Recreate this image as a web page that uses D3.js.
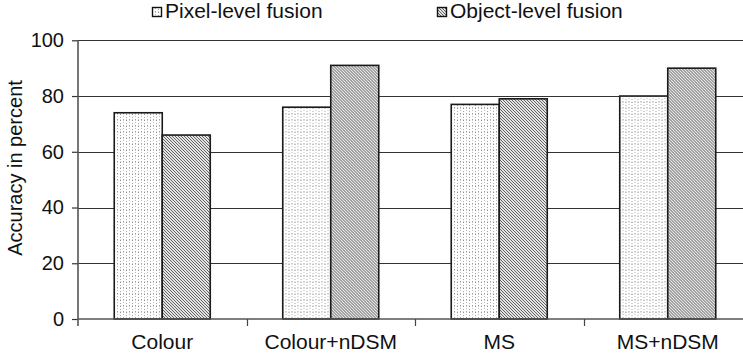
<!DOCTYPE html>
<html>
<head>
<meta charset="utf-8">
<script src="https://cdn.jsdelivr.net/npm/d3@7"></script>
<style>
  html, body { margin: 0; padding: 0; background: #fff; }
  svg { display: block; font-family: "Liberation Sans", Arial, Helvetica, sans-serif; }
</style>
</head>
<body>
<svg id="chart" width="743" height="357"></svg>
<script>
// Classification accuracy for each input data combination
const categories = ["Colour", "Colour+nDSM", "MS", "MS+nDSM"];
const seriesNames = ["Pixel-level fusion", "Object-level fusion"];
const pixelLevel = [74, 76, 77, 80];
const objectLevel = [66, 91, 79, 90];
const yTicks = [0, 20, 40, 60, 80, 100];

const svg = d3.select("#chart");
const W = 743;
const x0 = 78, bandStep = 168.5;
const yTop = 40.3, yBottom = 319;
const textColor = "#111";

// fill patterns
const defs = svg.append("defs");
const dots = defs.append("pattern")
  .attr("id", "dots").attr("patternUnits", "userSpaceOnUse")
  .attr("width", 6).attr("height", 6);
dots.append("rect").attr("width", 6).attr("height", 6).attr("fill", "#ffffff");
[[0, 0, "#8c8c8c"], [3, 2, "#bdbdbd"], [0, 3, "#a8a8a8"], [3, 5, "#9e9e9e"], [0, 5, "#d0d0d0"], [3, 0, "#c8c8c8"]]
  .forEach(([px, py, c]) => dots.append("rect").attr("x", px).attr("y", py)
    .attr("width", 1).attr("height", 1).attr("fill", c));

const hatch = defs.append("pattern")
  .attr("id", "hatch").attr("patternUnits", "userSpaceOnUse")
  .attr("width", 3).attr("height", 3);
hatch.append("rect").attr("width", 3).attr("height", 3).attr("fill", "#e4e4e4");
hatch.append("path").attr("d", "M-1,-1 L4,4 M-1,2 L1,4 M2,-1 L4,1")
  .attr("stroke", "#555").attr("stroke-width", 0.9);

const fills = ["url(#dots)", "url(#hatch)"];

const y = d3.scaleLinear().domain([0, 100]).range([yBottom, yTop]);
const x = d3.scaleBand().domain(categories).range([x0, x0 + categories.length * bandStep]);
const xs = d3.scaleBand().domain(seriesNames).range([0, x.bandwidth()]).paddingOuter(0.755);

// horizontal gridlines
svg.append("g").selectAll("line").data(yTicks.filter(d => d > 0)).join("line")
  .attr("x1", x0).attr("x2", W)
  .attr("y1", d => Math.round(y(d)) + 0.5).attr("y2", d => Math.round(y(d)) + 0.5)
  .attr("stroke", "#333").attr("stroke-width", 1.2);

// bars
const rows = categories.map((c, i) => ({ c, vals: [pixelLevel[i], objectLevel[i]] }));
const groups = svg.append("g").selectAll("g").data(rows).join("g")
  .attr("transform", d => `translate(${x(d.c)},0)`);
groups.selectAll("rect").data(d => d.vals.map((v, k) => ({ v, k }))).join("rect")
  .attr("x", d => xs(seriesNames[d.k]))
  .attr("width", xs.bandwidth())
  .attr("y", d => y(d.v))
  .attr("height", d => yBottom - y(d.v))
  .attr("fill", d => fills[d.k])
  .attr("stroke", "#1a1a1a").attr("stroke-width", 1.6);

// y axis
const yAxis = d3.axisLeft(y).tickValues(yTicks).tickSize(6).tickPadding(8);
const gy = svg.append("g").attr("transform", `translate(${x0},0)`).call(yAxis);
gy.select(".domain").remove();
gy.append("line").attr("x1", 0).attr("x2", 0).attr("y1", yTop).attr("y2", yBottom + 7)
  .attr("stroke", "#555").attr("stroke-width", 1.6);
gy.selectAll(".tick line").attr("stroke", "#333").attr("stroke-width", 1.2);
gy.selectAll(".tick text").attr("font-size", 20).attr("fill", textColor)
  .attr("font-family", "Liberation Sans, Arial, sans-serif");

// x axis
svg.append("line").attr("x1", x0).attr("x2", W).attr("y1", yBottom).attr("y2", yBottom)
  .attr("stroke", "#555").attr("stroke-width", 1.6);
svg.append("g").selectAll("line").data(categories.slice(1)).join("line")
  .attr("x1", d => Math.round(x(d)) + 0.5).attr("x2", d => Math.round(x(d)) + 0.5)
  .attr("y1", yBottom).attr("y2", yBottom + 7)
  .attr("stroke", "#444").attr("stroke-width", 1.2);
svg.append("g").selectAll("text").data(categories).join("text")
  .attr("x", d => x(d) + x.bandwidth() / 2)
  .attr("y", 349)
  .attr("text-anchor", "middle")
  .attr("font-size", 21).attr("fill", textColor)
  .text(d => d);

// y axis title
svg.append("text")
  .attr("transform", `translate(22,168) rotate(-90)`)
  .attr("text-anchor", "middle")
  .attr("font-size", 20).attr("fill", textColor)
  .text("Accuracy in percent");

// legend
const legendX = [152, 437];
const legend = svg.append("g").selectAll("g").data(seriesNames).join("g")
  .attr("transform", (d, i) => `translate(${legendX[i]},0)`);
legend.append("rect").attr("x", 0.5).attr("y", 7.5).attr("width", 9).attr("height", 9)
  .attr("fill", (d, i) => fills[i]).attr("stroke", "#111").attr("stroke-width", 1.4);
legend.append("text").attr("x", 13).attr("y", 18)
  .attr("font-size", 21).attr("fill", textColor)
  .text(d => d);
</script>
</body>
</html>
